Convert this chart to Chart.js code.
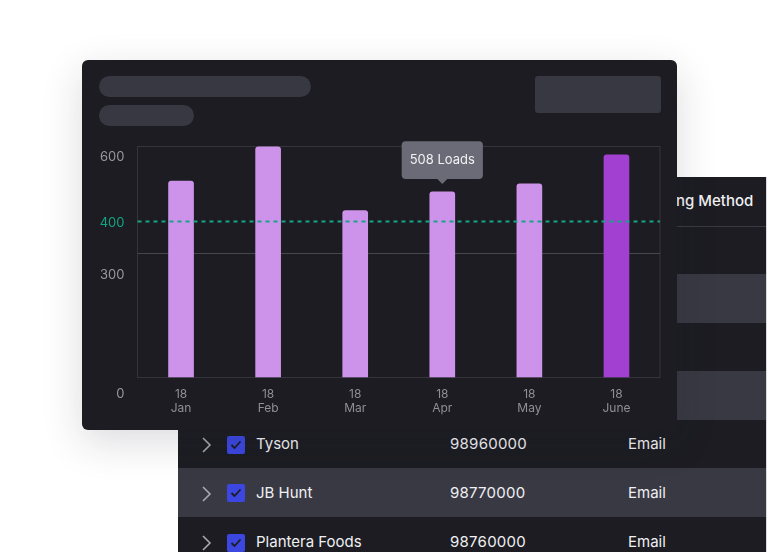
<!DOCTYPE html>
<html>
<head>
<meta charset="utf-8">
<script src="https://cdn.jsdelivr.net/npm/chart.js@4"></script>
<style>
  html, body { margin: 0; padding: 0; background: #fff; }
  body { width: 767px; height: 552px; position: relative; overflow: hidden; font-family: Inter, sans-serif; }
  #table { position: absolute; left: 178px; top: 177px; width: 588px; height: 375px; background: #1c1c22; border-right: 1px solid #d9d9de; overflow: hidden; }
  .row { position: absolute; left: 0; width: 100%; color: #f0f0f3; font-size: 15px; }
  .row.alt { background: #393943; }
  .row span { position: absolute; top: 50%; transform: translateY(-50%); margin-top: -1px; white-space: nowrap; }
  .head { position: absolute; left: 498px; top: 14px; color: #f0f0f3; font-size: 15px; font-weight: 500; white-space: nowrap; }
  .rule { position: absolute; left: 0; width: 100%; height: 1px; background: #3a3a42; }
  .box { position: absolute; left: 49px; width: 18px; height: 18px; top: 50%; margin-top: -8.5px; background: #3b47e0; border-radius: 2px; }
  svg.chev { position: absolute; left: 23px; top: 50%; margin-top: -7px; }
  svg.tick { position: absolute; left: 3px; top: 4px; }
  #card { position: absolute; left: 82px; top: 60px; width: 595px; height: 370px; background: #1c1c22; border-radius: 6px;
          box-shadow: 0 12px 40px rgba(30,30,50,.16); }
  #card canvas { position: absolute; left: 0; top: 0; }
  .ph { position: absolute; background: #383843; }
</style>
</head>
<body>
<div id="table">
  <div class="head">ng Method</div>
  <div class="rule" style="top:49px"></div>
  <div id="rows"></div>
</div>
<div id="card">
  <div class="ph" style="left:17px;top:16px;width:212px;height:21px;border-radius:11px"></div>
  <div class="ph" style="left:17px;top:45px;width:95px;height:21px;border-radius:11px"></div>
  <div class="ph" style="left:453px;top:16px;width:126px;height:37px;border-radius:3px"></div>
  <canvas id="chart" width="595" height="370"></canvas>
</div>
<script>
const months = [['18', 'Jan'], ['18', 'Feb'], ['18', 'Mar'], ['18', 'Apr'], ['18', 'May'], ['18', 'June']];
const loads = [538, 632, 457, 508, 530, 610];
const barColors = ['#cd93ea', '#cd93ea', '#cd93ea', '#cd93ea', '#cd93ea', '#a241d1'];
const yTickValues = [-47, 280, 422, 604];
const yTickLabels = ['0', '300', '400', '600'];
const thresholdValue = 427;
const gridValue = 340;
const yMin = -47;
const yMax = 634;

const carriers = ['Tyson', 'JB Hunt', 'Plantera Foods'];
const carrierIds = ['98960000', '98770000', '98760000'];
const carrierMethods = ['Email', 'Email', 'Email'];

// table rows behind the chart, the first four are covered by the card except their right end
const rows = document.getElementById('rows');
const rowTops = [50, 97, 146, 194, 243, 291, 340];
rowTops.forEach((top, i) => {
    const next = rowTops[i + 1] || 390;
    const row = document.createElement('div');
    row.className = 'row' + (i % 2 ? ' alt' : '');
    row.style.top = top + 'px';
    row.style.height = (next - top) + 'px';
    const k = i - 4;
    if (k >= 0) {
        row.innerHTML =
            '<svg class="chev" width="12" height="16"><path d="M2 1l7 7-7 7" fill="none" stroke="#a8a8ae" stroke-width="1.6"/></svg>' +
            '<div class="box"><svg class="tick" width="12" height="10"><path d="M1.5 5l3 3 6-6.5" fill="none" stroke="#1c1c22" stroke-width="1.8"/></svg></div>' +
            '<span style="left:78px">' + carriers[k] + '</span>' +
            '<span style="left:272px;letter-spacing:.25px">' + carrierIds[k] + '</span>' +
            '<span style="left:450px">' + carrierMethods[k] + '</span>';
    }
    rows.appendChild(row);
});

const plotFrame = {
    id: 'plotFrame',
    beforeDatasetsDraw(chart) {
        const { ctx, chartArea, scales } = chart;
        const top = Math.round(chartArea.top) + 0.5;
        const base = Math.round(scales.y.getPixelForValue(0)) + 0.5;
        ctx.save();
        ctx.strokeStyle = '#34343b';
        ctx.lineWidth = 1;
        ctx.strokeRect(chartArea.left, top, chartArea.width, base - top);
        const gy = Math.round(scales.y.getPixelForValue(gridValue)) + 0.5;
        ctx.strokeStyle = '#46464d';
        ctx.beginPath();
        ctx.moveTo(chartArea.left, gy);
        ctx.lineTo(chartArea.right, gy);
        ctx.stroke();
        ctx.restore();
    },
    afterDatasetsDraw(chart) {
        const { ctx, chartArea, scales } = chart;
        const ty = scales.y.getPixelForValue(thresholdValue);
        ctx.save();
        ctx.strokeStyle = '#14a588';
        ctx.lineWidth = 2;
        ctx.setLineDash([4, 4]);
        ctx.beginPath();
        ctx.moveTo(chartArea.left, ty);
        ctx.lineTo(chartArea.right, ty);
        ctx.stroke();
        ctx.restore();
    }
};

const myChart = new Chart(document.getElementById('chart'), {
    type: 'bar',
    data: {
        labels: months,
        datasets: [{
            data: loads,
            backgroundColor: barColors,
            hoverBackgroundColor: barColors,
            barThickness: 25,
            borderRadius: { topLeft: 3, topRight: 3, bottomLeft: 0, bottomRight: 0 },
            borderSkipped: false
        }]
    },
    options: {
        responsive: false,
        animation: false,
        events: [],
        layout: { padding: { left: 0, top: 86, right: 17, bottom: 36 } },
        scales: {
            x: {
                axis: 'x',
                position: { y: 0 },
                grid: { display: false },
                border: { display: false },
                ticks: { color: '#908f96', padding: 2, maxRotation: 0, font: { family: 'Inter', size: 12, lineHeight: 1.17 } }
            },
            y: {
                min: yMin,
                max: yMax,
                afterFit: (scale) => { scale.width = 55.5; },
                afterBuildTicks: (scale) => { scale.ticks = yTickValues.map(v => ({ value: v })); },
                grid: { display: false },
                border: { display: false },
                ticks: {
                    autoSkip: false,
                    padding: 5,
                    font: { family: 'Inter', size: 13 },
                    color: (c) => c.index === 2 ? '#12a583' : '#98989e',
                    callback: (value, index) => yTickLabels[index]
                }
            }
        },
        plugins: {
            legend: { display: false },
            tooltip: {
                animation: false,
                backgroundColor: '#6b6b77',
                bodyColor: '#f2f2f4',
                bodyFont: { family: 'Inter', size: 13 },
                padding: { x: 8, y: 11 },
                cornerRadius: 4,
                caretSize: 5,
                caretPadding: 8,
                displayColors: false,
                xAlign: 'center',
                yAlign: 'bottom',
                callbacks: {
                    title: () => '',
                    label: (c) => c.parsed.y + ' Loads'
                }
            }
        }
    },
    plugins: [plotFrame]
});

myChart.tooltip.setActiveElements([{ datasetIndex: 0, index: 3 }], { x: 0, y: 0 });
myChart.update();
</script>
</body>
</html>
